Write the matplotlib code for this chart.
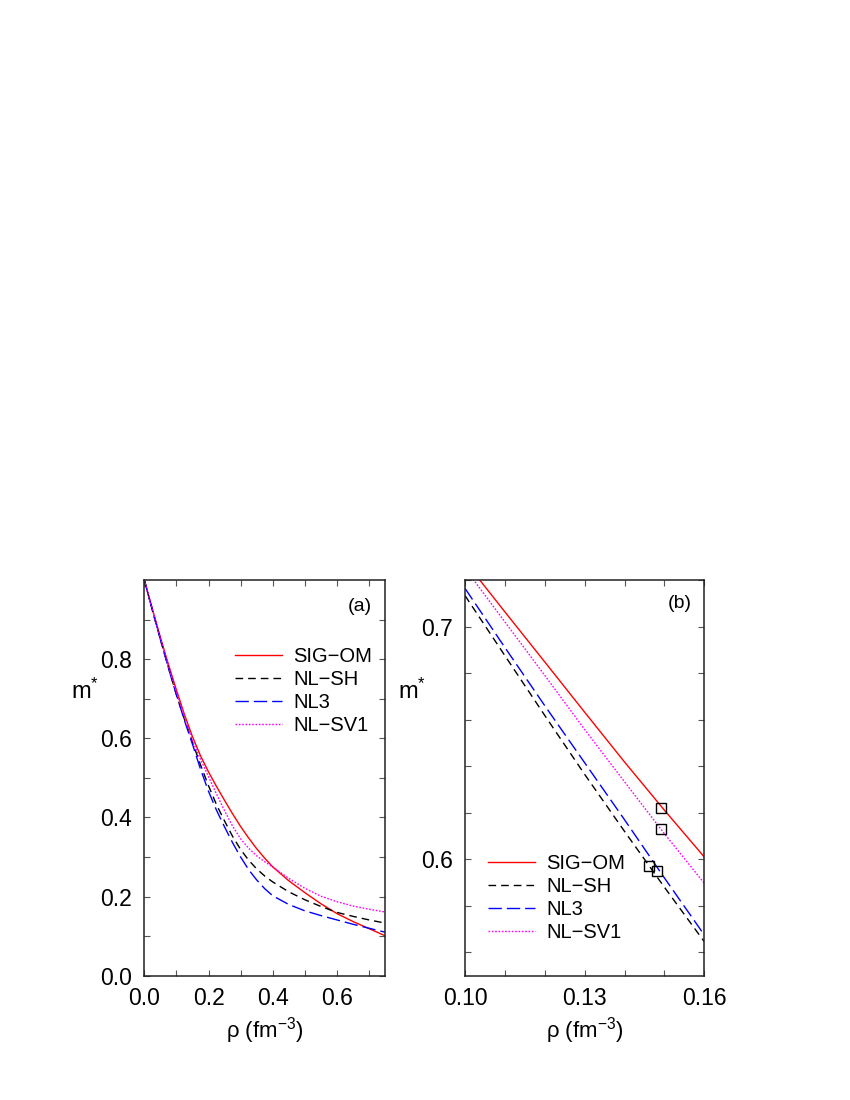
import numpy as np
import matplotlib
matplotlib.use("Agg")
import matplotlib.pyplot as plt
from matplotlib.ticker import FixedLocator, FormatStrFormatter

plt.rcParams['font.family'] = ['Liberation Sans', 'DejaVu Sans']
plt.rcParams['mathtext.fontset'] = 'custom'
plt.rcParams['mathtext.rm'] = 'Liberation Sans'
plt.rcParams['mathtext.it'] = 'Liberation Sans:italic'

# panel (a): full density range
rho_a = [0.0, 0.025, 0.05, 0.075, 0.10, 0.125, 0.15, 0.175, 0.20, 0.225,
         0.25, 0.275, 0.30, 0.325, 0.35, 0.375, 0.40, 0.45, 0.50, 0.55,
         0.60, 0.65, 0.70, 0.75]
sig_om_a = [1.0, 0.927, 0.855, 0.787, 0.722, 0.660, 0.604, 0.556, 0.515,
            0.478, 0.443, 0.409, 0.377, 0.348, 0.321, 0.297, 0.275, 0.240,
            0.210, 0.182, 0.157, 0.137, 0.119, 0.101]
nl_sh_a = [1.0, 0.924, 0.850, 0.779, 0.710, 0.648, 0.590, 0.533, 0.480,
           0.432, 0.391, 0.352, 0.319, 0.292, 0.270, 0.252, 0.237, 0.212,
           0.192, 0.175, 0.160, 0.150, 0.141, 0.133]
nl3_a = [1.0, 0.924, 0.850, 0.778, 0.710, 0.645, 0.585, 0.522, 0.466,
         0.418, 0.376, 0.336, 0.300, 0.268, 0.242, 0.220, 0.202, 0.180,
         0.164, 0.152, 0.141, 0.130, 0.120, 0.110]
nl_sv1_a = [1.0, 0.926, 0.853, 0.783, 0.716, 0.654, 0.594, 0.547, 0.503,
            0.459, 0.417, 0.378, 0.346, 0.322, 0.303, 0.288, 0.275, 0.246,
            0.221, 0.201, 0.187, 0.176, 0.168, 0.161]

# panel (b): zoom around saturation
rho_b = [0.10, 0.11, 0.12, 0.13, 0.14, 0.15, 0.16]
sig_om_b = [0.728, 0.7063, 0.6848, 0.6632, 0.6418, 0.6211, 0.601]
nl_sh_b = [0.7133, 0.6875, 0.6618, 0.6365, 0.612, 0.588, 0.5646]
nl3_b = [0.7164, 0.691, 0.666, 0.6415, 0.617, 0.592, 0.5675]
nl_sv1_b = [0.725, 0.702, 0.679, 0.6558, 0.6333, 0.611, 0.5897]

# saturation points (squares)
sat_rho = [0.1491, 0.1461, 0.1481, 0.1491]
sat_m = [0.6219, 0.5971, 0.5951, 0.6130]

labels = ['SIG\u2212OM', 'NL\u2212SH', 'NL3', 'NL\u2212SV1']
colors = ['#ff0000', '#000000', '#0000ff', '#ff00ff']
dashes = [None, (5.5, 3.6), (9.6, 3.6), (1.2, 1.2)]

fig = plt.figure(figsize=(8.5, 11), dpi=100)
ax1 = fig.add_axes([0.1698, 0.1130, 0.2832, 0.3597])
ax2 = fig.add_axes([0.5471, 0.1130, 0.2815, 0.3597])


def draw(ax, x, series):
    for y, lab, c, d in zip(series, labels, colors, dashes):
        line, = ax.plot(x, y, color=c, lw=1.0, label=lab)
        if d is not None:
            line.set_dashes(d)


draw(ax1, rho_a, [sig_om_a, nl_sh_a, nl3_a, nl_sv1_a])
draw(ax2, rho_b, [sig_om_b, nl_sh_b, nl3_b, nl_sv1_b])
ax2.plot(sat_rho, sat_m, 's', ms=6.5, mfc='none', mec='black', mew=1.0)

ax1.set_xlim(0, 0.75)
ax1.set_ylim(0, 1.0)
ax1.xaxis.set_major_locator(FixedLocator([0.0, 0.2, 0.4, 0.6]))
ax1.xaxis.set_minor_locator(FixedLocator([0.1, 0.3, 0.5, 0.7]))
ax1.yaxis.set_major_locator(FixedLocator([0.0, 0.2, 0.4, 0.6, 0.8]))
ax1.yaxis.set_minor_locator(FixedLocator([0.1, 0.3, 0.5, 0.7, 0.9]))
ax1.xaxis.set_major_formatter(FormatStrFormatter('%.1f'))
ax1.yaxis.set_major_formatter(FormatStrFormatter('%.1f'))

ax2.set_xlim(0.10, 0.16)
ax2.set_ylim(0.55, 0.72)
ax2.xaxis.set_major_locator(FixedLocator([0.10, 0.13, 0.16]))
ax2.xaxis.set_minor_locator(FixedLocator([0.11, 0.12, 0.14, 0.15]))
ax2.yaxis.set_major_locator(FixedLocator([0.6, 0.7]))
ax2.yaxis.set_minor_locator(FixedLocator([0.56, 0.58, 0.62, 0.64, 0.66, 0.68, 0.72]))
ax2.xaxis.set_major_formatter(FormatStrFormatter('%.2f'))
ax2.yaxis.set_major_formatter(FormatStrFormatter('%.1f'))

for ax in (ax1, ax2):
    for s in ax.spines.values():
        s.set_linewidth(1.1)
        s.set_color('#222222')
    ax.tick_params(which='both', direction='in', top=True, right=True,
                   length=4.5, width=0.8, color='#555555', labelsize=16.5)
    ax.tick_params(axis='x', which='major', pad=8)
    ax.tick_params(axis='y', which='major', pad=9)
    ax.set_xlabel('\u03c1 (fm$^{\\mathregular{-3}}$)', fontsize=16, labelpad=4)

ax1.text(-0.245, 0.72, 'm$^{\\mathregular{*}}$', transform=ax1.transAxes,
         fontsize=17, ha='center', va='center')
ax2.text(-0.22, 0.72, 'm$^{\\mathregular{*}}$', transform=ax2.transAxes,
         fontsize=17, ha='center', va='center')

ax1.text(0.896, 0.934, '(a)', transform=ax1.transAxes, fontsize=14,
         ha='center', va='center')
ax2.text(0.898, 0.94, '(b)', transform=ax2.transAxes, fontsize=14,
         ha='center', va='center')

leg_kw = dict(frameon=False, fontsize=14.5, handlelength=2.35,
              handletextpad=0.55, labelspacing=0.2, borderpad=0,
              borderaxespad=0, loc='upper left')
ax1.legend(bbox_to_anchor=(0.377, 0.83), **leg_kw)
ax2.legend(bbox_to_anchor=(0.096, 0.308), **leg_kw)

fig.savefig('out.png', dpi=100)
